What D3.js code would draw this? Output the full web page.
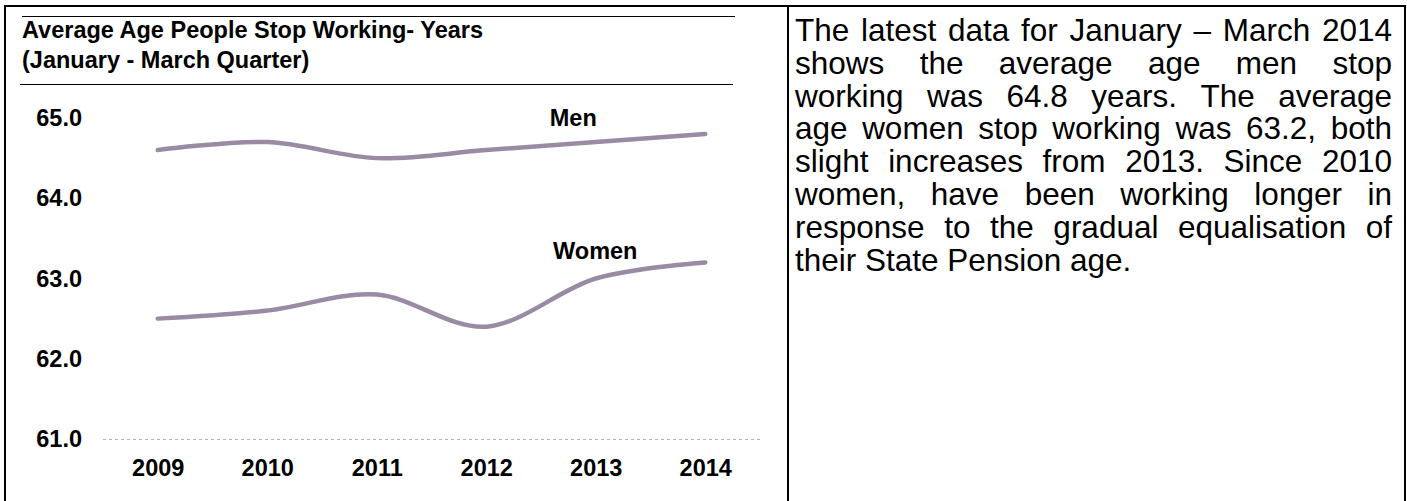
<!DOCTYPE html>
<html>
<head>
<meta charset="utf-8">
<script src="https://cdn.jsdelivr.net/npm/d3@7"></script>
<style>
  html, body { margin: 0; padding: 0; background: #fff; }
  svg { display: block; }
</style>
</head>
<body>
<svg id="chart" width="1407" height="501"></svg>
<script>
// Years on the x axis
const years = ["2009", "2010", "2011", "2012", "2013", "2014"];
// Average age people stop working, January - March quarter
const menAges = [64.6, 64.7, 64.5, 64.6, 64.7, 64.8];
const womenAges = [62.5, 62.6, 62.8, 62.4, 63.0, 63.2];
// Y axis tick values
const yTicks = [61, 62, 63, 64, 65];
// Series names
const seriesNames = ["Men", "Women"];
// Chart heading
const titleLines = ["Average Age People Stop Working- Years", "(January - March Quarter)"];
// Commentary beside the chart, one entry per line
const commentLines = [
  "The latest data for January \u2013 March 2014",
  "shows the average age men stop",
  "working was 64.8 years. The average",
  "age women stop working was 63.2, both",
  "slight increases from 2013. Since 2010",
  "women, have been working longer in",
  "response to the gradual equalisation of",
  "their State Pension age."
];

const FONT = "'Liberation Sans', Arial, Helvetica, sans-serif";
const LINE_COLOR = "#9a8ba5";

const svg = d3.select("#chart");

// Frame: outer box (open at the bottom) and the divider between chart and text
const frame = svg.append("g").attr("stroke", "#000").attr("stroke-width", 2).attr("fill", "none");
frame.append("path").attr("d", "M5,501 V6 H1405 V501");
frame.append("line").attr("x1", 788).attr("x2", 788).attr("y1", 6).attr("y2", 501);

// Title with rules above and below
svg.append("line").attr("x1", 22).attr("x2", 735).attr("y1", 16.5).attr("y2", 16.5)
  .attr("stroke", "#000").attr("stroke-width", 1);
svg.append("line").attr("x1", 20).attr("x2", 733).attr("y1", 84.5).attr("y2", 84.5)
  .attr("stroke", "#000").attr("stroke-width", 1);
svg.append("g").selectAll("text").data(titleLines).join("text")
  .attr("x", 22)
  .attr("y", (d, i) => 38 + i * 30)
  .attr("font-family", FONT)
  .attr("font-weight", "bold")
  .attr("font-size", 23.5)
  .attr("fill", "#000")
  .text(d => d);

// Scales
const x = d3.scalePoint().domain(years).range([103, 760]).padding(0.5);
const y = d3.scaleLinear().domain([61, 65]).range([439, 118]);

// Baseline gridline at the axis minimum
svg.append("line")
  .attr("x1", 103).attr("x2", 760)
  .attr("y1", Math.round(y(61)) + 0.5).attr("y2", Math.round(y(61)) + 0.5)
  .attr("stroke", "#b3b3b3").attr("stroke-width", 1).attr("stroke-dasharray", "3,3");

// Y axis labels
const yAxis = d3.axisLeft(y).tickValues(yTicks).tickFormat(d3.format(".1f")).tickSize(0).tickPadding(0);
svg.append("g").attr("transform", "translate(82,0)").call(yAxis)
  .call(g => g.select(".domain").remove())
  .selectAll("text")
  .attr("font-family", FONT).attr("font-weight", "bold").attr("font-size", 23.5).attr("fill", "#000");

// X axis labels
const xAxis = d3.axisBottom(x).tickSize(0).tickPadding(0);
svg.append("g").attr("transform", "translate(0,459)").call(xAxis)
  .call(g => g.select(".domain").remove())
  .selectAll("text")
  .attr("font-family", FONT).attr("font-weight", "bold").attr("font-size", 23.5).attr("fill", "#000");

// Smoothed series lines
const line = d3.line()
  .x((d, i) => x(years[i]))
  .y(d => y(d))
  .curve(d3.curveCardinal.tension(0));

const series = [menAges, womenAges];
svg.append("g").selectAll("path").data(series).join("path")
  .attr("d", d => line(d))
  .attr("fill", "none")
  .attr("stroke", LINE_COLOR)
  .attr("stroke-width", 4.5)
  .attr("stroke-linecap", "round");

// Series labels
const labelPos = [
  { name: seriesNames[0], year: "2012", value: 64.6, dx: 87, dy: -24 },
  { name: seriesNames[1], year: "2012", value: 62.4, dx: 109, dy: -68 }
];
svg.append("g").selectAll("text").data(labelPos).join("text")
  .attr("x", d => x(d.year) + d.dx)
  .attr("y", d => y(d.value) + d.dy)
  .attr("text-anchor", "middle")
  .attr("font-family", FONT).attr("font-weight", "bold").attr("font-size", 23.5).attr("fill", "#000")
  .text(d => d.name);

// Justified commentary text
const textLeft = 795, textRight = 1392, firstBaseline = 41, lineStep = 32.8;
const comment = svg.append("g")
  .attr("font-family", FONT).attr("font-size", 31.5).attr("fill", "#000");
commentLines.forEach((ln, li) => {
  const words = ln.split(" ");
  const yy = firstBaseline + li * lineStep;
  const isLast = li === commentLines.length - 1;
  const nodes = words.map(w => comment.append("text").attr("y", yy).text(w));
  const widths = nodes.map(n => n.node().getComputedTextLength());
  const total = d3.sum(widths);
  let gap;
  if (isLast || words.length < 2) {
    const tmp = comment.append("text").text("a b");
    const tmp2 = comment.append("text").text("ab");
    gap = tmp.node().getComputedTextLength() - tmp2.node().getComputedTextLength();
    tmp.remove(); tmp2.remove();
  } else {
    gap = (textRight - textLeft - total) / (words.length - 1);
  }
  let cx = textLeft;
  nodes.forEach((n, i) => { n.attr("x", cx); cx += widths[i] + gap; });
});
</script>
</body>
</html>
